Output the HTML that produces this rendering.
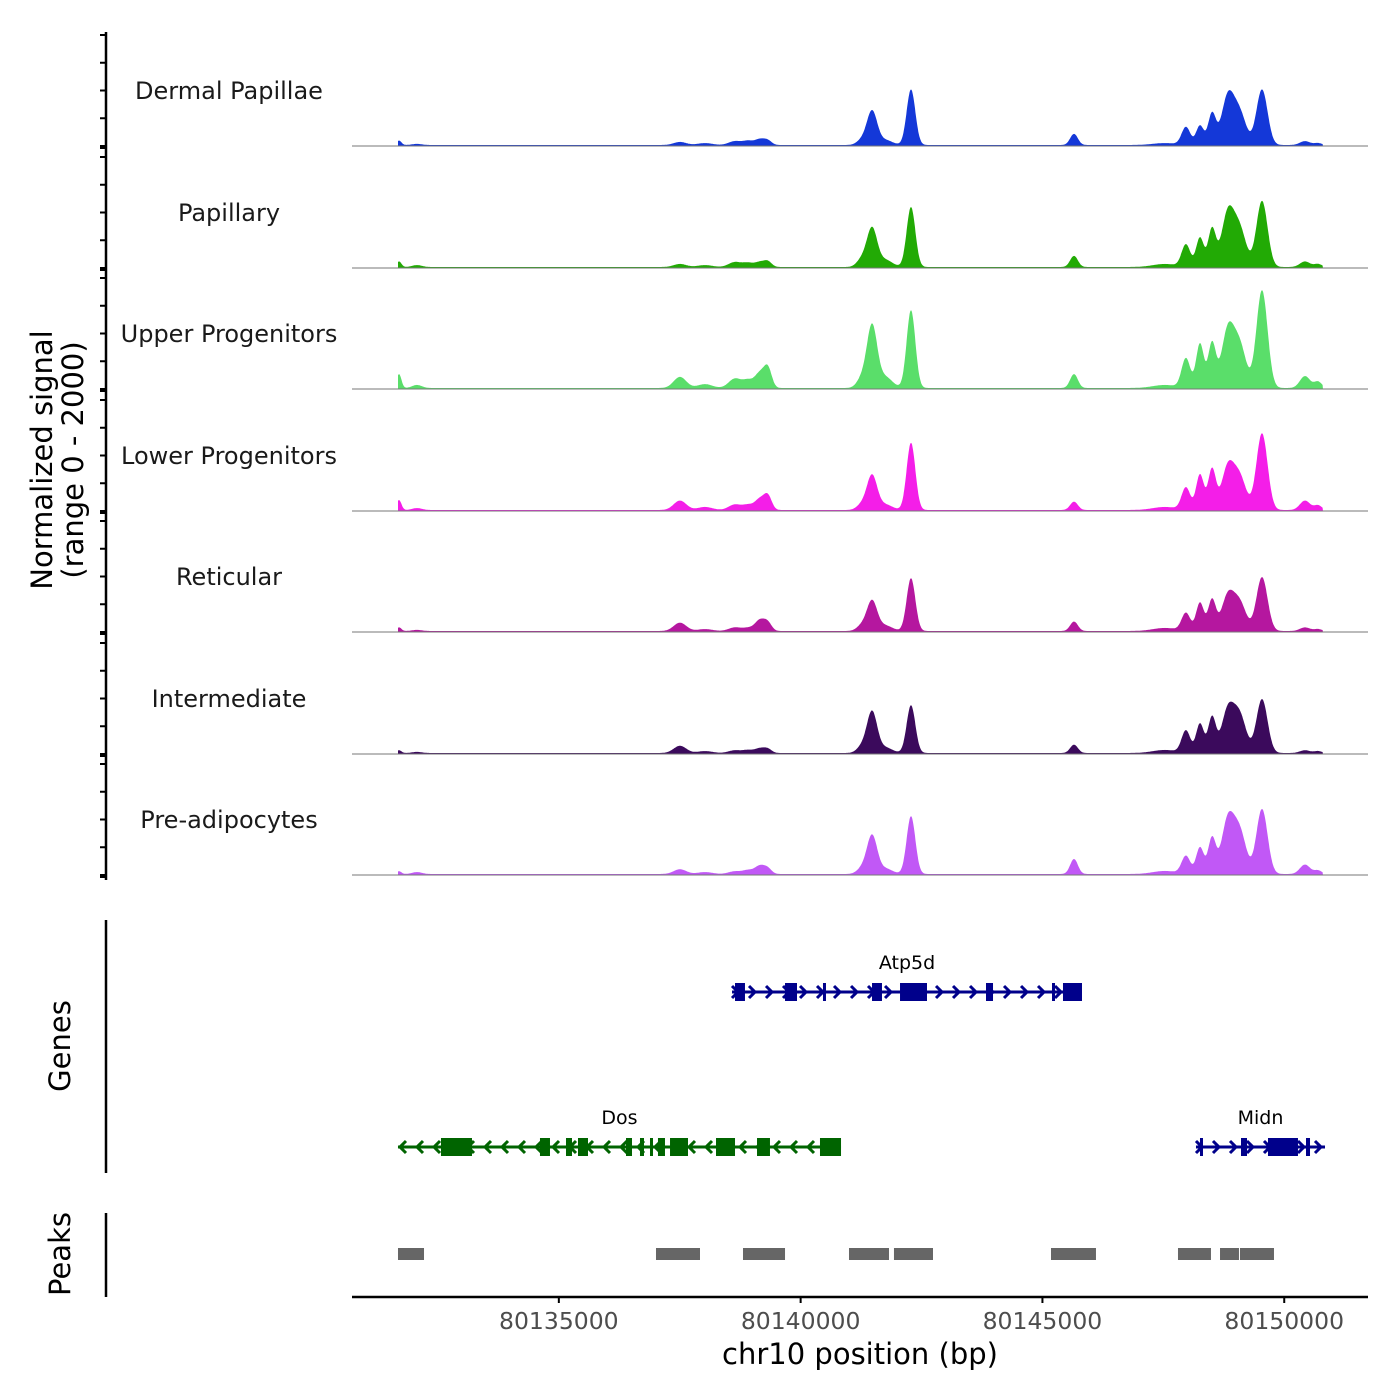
<!DOCTYPE html>
<html><head><meta charset="utf-8"><style>
body{margin:0;background:#fff}
svg{display:block;font-family:"DejaVu Sans","Liberation Sans",sans-serif}
</style></head><body>
<svg id="c" width="1400" height="1400" viewBox="0 0 1400 1400" xmlns="http://www.w3.org/2000/svg"></svg>
<script>
// ---- data ----
const trackNames = ["Dermal Papillae","Papillary","Upper Progenitors","Lower Progenitors","Reticular","Intermediate","Pre-adipocytes"];
const trackColors = ["#1438d8","#22aa05","#5ade6a","#f41ee8","#b5179f","#3b0a5c","#c158f6"];
const peakCenters = [80131695,80132067,80137505,80138022,80138643,80138911,80139160,80139325,80141269,80141476,80141744,80142282,80145653,80147534,80147968,80148258,80148506,80148837,80149085,80149540,80150429,80150698];
const peakWidths  = [50,100,130,150,130,105,105,80,105,105,150,90,80,250,90,80,80,130,130,115,105,80];
const sigDermal   = [80,20,55,35,70,70,105,70,90,600,90,1000,200,35,320,350,560,880,540,1000,70,35];
const sigPapillary= [100,35,55,35,90,70,90,90,140,680,130,1080,200,55,400,530,680,980,640,1190,100,55];
const sigUpper    = [250,55,200,70,170,130,270,330,170,1100,200,1400,250,55,530,800,800,1050,720,1760,215,115];
const sigLower    = [180,35,170,55,100,85,200,235,100,610,100,1210,150,55,400,640,730,780,560,1380,170,85];
const sigReticular= [65,20,150,35,65,50,200,130,100,530,100,950,170,55,320,510,560,640,480,970,65,35];
const sigInterm   = [50,20,130,35,50,50,85,65,115,730,100,860,150,55,400,530,640,780,640,970,50,35];
const sigPreadip  = [50,35,85,35,50,65,150,85,100,680,100,1040,270,55,320,480,640,980,720,1170,170,65];
const signals = [sigDermal,sigPapillary,sigUpper,sigLower,sigReticular,sigInterm,sigPreadip];
const xTicks = [80135000,80140000,80145000,80150000];
const genes = [
 {name:"Atp5d",strand:1,start:80138581,end:80145818,color:"#00008b",row:0,
  exons:[[80138643,80138849],[80139677,80139925],[80140462,80140524],[80141476,80141682],[80142055,80142613],[80143833,80143978],[80145198,80145260],[80145425,80145818]]},
 {name:"Dos",strand:-1,start:80131674,end:80140835,color:"#006400",row:1,
  exons:[[80132563,80133204],[80134610,80134817],[80135148,80135272],[80135396,80135603],[80136389,80136513],[80136678,80136761],[80136885,80136926],[80137050,80137195],[80137299,80137671],[80138250,80138643],[80139098,80139366],[80140400,80140835]]},
 {name:"Midn",strand:1,start:80148175,end:80150843,color:"#00008b",row:1,
  exons:[[80148258,80148320],[80149106,80149230],[80149664,80150284],[80150450,80150533]]}
];
const peakStarts = [80131674,80137009,80138808,80141000,80141930,80145177,80147803,80148672,80149085];
const peakEnds   = [80132212,80137919,80139677,80141827,80142737,80146107,80148485,80149064,80149788];

// ---- scales ----
const X0=352,X1=1368,BP0=80130723,PXPB=0.04836;
const sx = bp => X0+(bp-BP0)*PXPB;
const baselines=[146,268,389,511,632,754,875];
const sy = (v,k) => baselines[k]-v/2000*111;
const NS="http://www.w3.org/2000/svg";
const svg=document.getElementById("c");
function el(tag,attrs,parent){const e=document.createElementNS(NS,tag);for(const a in attrs)e.setAttribute(a,attrs[a]);(parent||svg).appendChild(e);return e;}
function txt(s,attrs,parent){const e=el("text",attrs,parent);e.textContent=s;return e;}

// left axis for tracks
const ax=el("g",{});


el("line",{x1:106,y1:32,x2:106,y2:880,stroke:"#000","stroke-width":2.5},ax);
for(let k=0;k<7;k++){
  const top=baselines[k]-111;
  for(let j=0;j<5;j++){const y=top+j*27.75;el("line",{x1:100,y1:y,x2:106,y2:y,stroke:"#000","stroke-width":2},ax);}
  el("line",{x1:100,y1:baselines[k]+2,x2:106,y2:baselines[k]+2,stroke:"#000","stroke-width":2},ax);
}
const yt=txt("",{transform:"translate(52,460) rotate(-90)","text-anchor":"middle","font-size":29,fill:"#000"});


const t1=el("tspan",{x:0,y:0},yt);t1.textContent="Normalized signal";
const t2=el("tspan",{x:0,y:31},yt);t2.textContent="(range 0 - 2000)";

// tracks
const sMin=80131674, sMax=80150801;
for(let k=0;k<7;k++){
  const g=el("g",{});
  
  
  const sig=signals[k];
  let d="M"+sx(sMin)+","+baselines[k];
  for(let bp=sMin;bp<=sMax;bp+=10){
    let v=18;
    for(let i=0;i<peakCenters.length;i++){const z=(bp-peakCenters[i])/peakWidths[i];v+=sig[i]*Math.exp(-0.5*z*z);}
    d+=" L"+sx(bp).toFixed(1)+","+sy(v,k).toFixed(1);
  }
  d+=" L"+sx(sMax)+","+baselines[k]+"Z";
  const p=el("path",{d:d,fill:trackColors[k],stroke:"none"},g);
  
  
  el("line",{x1:X0,y1:baselines[k],x2:X1,y2:baselines[k],stroke:"#777","stroke-width":1},g);
  const lb=txt(trackNames[k],{x:229,y:baselines[k]-47,"text-anchor":"middle","font-size":24,fill:"#1a1a1a"},g);
  
  
}

// genes
const gg=el("g",{});


el("line",{x1:106,y1:920,x2:106,y2:1173,stroke:"#000","stroke-width":2.5},gg);
const gt=txt("Genes",{transform:"translate(70,1046) rotate(-90)","text-anchor":"middle","font-size":29},gg);


const rowY=[992,1147];
genes.forEach(gn=>{
  const g=el("g",{},gg);
  
  
  const y=rowY[gn.row],a=sx(gn.start),b=sx(gn.end);
  el("line",{x1:a,y1:y,x2:b,y2:y,stroke:gn.color,"stroke-width":3},g);
  for(let x=a+4;x<b-2;x+=17){
    const s=gn.strand;
    el("polyline",{points:`${x-4*s},${y-6} ${x+2*s},${y} ${x-4*s},${y+6}`,fill:"none",stroke:gn.color,"stroke-width":3},g);
  }
  gn.exons.forEach(e=>{el("rect",{x:sx(e[0]),y:y-9,width:Math.max(3,sx(e[1])-sx(e[0])),height:18,fill:gn.color},g);});
  const lab=txt(gn.name,{x:(a+b)/2,y:y-23,"text-anchor":"middle","font-size":19,fill:"#000"},g);
  
  
});

// peaks
const pg=el("g",{});


el("line",{x1:106,y1:1213,x2:106,y2:1297,stroke:"#000","stroke-width":2.5},pg);
const pt=txt("Peaks",{transform:"translate(70,1254) rotate(-90)","text-anchor":"middle","font-size":29},pg);


for(let i=0;i<peakStarts.length;i++){
  const r=el("rect",{x:sx(peakStarts[i]),y:1248,width:sx(peakEnds[i])-sx(peakStarts[i]),height:12,fill:"#666"},pg);
  
  
}

// x axis
const xg=el("g",{});


el("line",{x1:X0,y1:1297,x2:X1,y2:1297,stroke:"#000","stroke-width":2.5},xg);
xTicks.forEach(t=>{
  el("line",{x1:sx(t),y1:1297,x2:sx(t),y2:1303,stroke:"#000","stroke-width":2},xg);
  const l=txt(String(t),{x:sx(t),y:1329,"text-anchor":"middle","font-size":23.5,fill:"#4d4d4d"},xg);
  
  
});
const xt=txt("chr10 position (bp)",{x:860,y:1364,"text-anchor":"middle","font-size":29,fill:"#000"},xg);


</script>
</body></html>
